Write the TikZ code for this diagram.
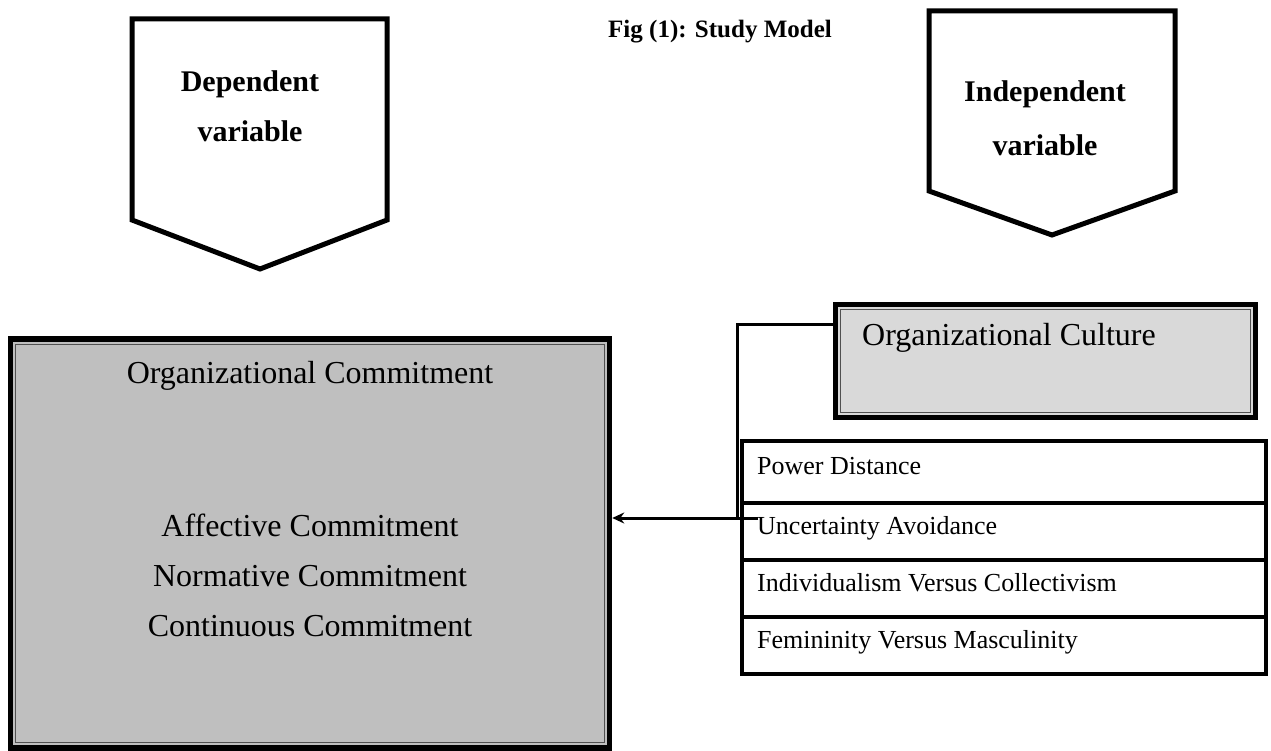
\documentclass[tikz,border=0pt]{standalone}
\usepackage{fontspec}
\setmainfont{Liberation Serif}
\usepackage{xcolor}
\usetikzlibrary{shapes,arrows,arrows.meta,positioning,calc}
\definecolor{commitgray}{RGB}{191,191,191}
\definecolor{culturegray}{RGB}{217,217,217}
\definecolor{rulegray}{RGB}{80,80,80}

\begin{document}
\begin{tikzpicture}[x=1pt, y=-1pt]
    % Styles
    \tikzstyle{varshape} = [draw=black, line width=5pt, line join=miter, fill=white]
    \tikzstyle{vartext} = [font=\fontsize{30}{50}\selectfont\bfseries, align=center]
    \tikzstyle{bigbox} = [draw=black, line width=5.5pt, inner sep=0pt]
    \tikzstyle{innerline} = [draw=rulegray, line width=1.4pt]
    \tikzstyle{boxtext} = [font=\fontsize{32}{50}\selectfont, align=center]
    \tikzstyle{rowbox} = [draw=black, line width=4.5pt, fill=white, minimum width=524pt, inner sep=0pt, outer sep=0pt]
    \tikzstyle{rowtext} = [font=\fontsize{26}{30}\selectfont, anchor=base west, inner sep=0pt]
    \tikzstyle{link} = [line width=3pt]
    \tikzstyle{arrow} = [line width=3pt, -{Stealth[length=12pt,width=11pt]}]

    \useasboundingbox (0,0) rectangle (1271,751);

    % Heading
    \node[font=\fontsize{25}{30}\selectfont\bfseries] (title) at (720,32) {Fig (1): Study Model};

    % Variable markers
    \draw[varshape] (132,19) -- (387,19) -- (387,220) -- (260,269) -- (132,220) -- cycle;
    \node[vartext] (deplabel) at (250,106) {Dependent\\variable};
    \draw[varshape] (929,11) -- (1175,11) -- (1175,191) -- (1052,235) -- (929,191) -- cycle;
    \node[vartext, font=\fontsize{30}{54}\selectfont\bfseries] (indlabel) at (1045,118) {Independent\\variable};

    % Organizational commitment
    \node[bigbox, fill=commitgray, minimum width=599pt, minimum height=409pt] (commit) at (310,543.5) {};
    \draw[innerline] ([shift={(8pt,-8pt)}]commit.north west) rectangle ([shift={(-8pt,8pt)}]commit.south east);
    \node[boxtext] (committitle) at (310,376) {Organizational Commitment};
    \node[boxtext] (commititems) at (310,575) {Affective Commitment\\Normative Commitment\\Continuous Commitment};

    % Organizational culture
    \node[bigbox, fill=culturegray, minimum width=420pt, minimum height=113pt] (culture) at (1045.5,361) {};
    \draw[innerline] ([shift={(8pt,-8pt)}]culture.north west) rectangle ([shift={(-8pt,8pt)}]culture.south east);
    \node[boxtext, anchor=west, inner sep=0pt] (culturetitle) at (862,338) {Organizational Culture};

    % Dimensions
    \node[rowbox, minimum height=62pt] (pd) at (1004,472) {};
    \node[rowbox, minimum height=57pt, below=0pt of pd] (ua) {};
    \node[rowbox, minimum height=57pt, below=0pt of ua] (ic) {};
    \node[rowbox, minimum height=57pt, below=0pt of ic] (fm) {};
    \node[rowtext] (pdtext) at ([shift={(15pt,-33pt)}]pd.north west) {Power Distance};
    \node[rowtext] (uatext) at ([shift={(15pt,-31pt)}]ua.north west) {Uncertainty Avoidance};
    \node[rowtext] (ictext) at ([shift={(15pt,-31pt)}]ic.north west) {Individualism Versus Collectivism};
    \node[rowtext] (fmtext) at ([shift={(15pt,-31pt)}]fm.north west) {Femininity Versus Masculinity};

    % Connector
    \coordinate (bend) at (737,518);
    \coordinate (tail) at (758,518);
    \draw[link] ([yshift=37pt]culture.west) -| (bend);
    \draw[arrow] (tail) -- (commit.east |- tail);
\end{tikzpicture}
\end{document}
